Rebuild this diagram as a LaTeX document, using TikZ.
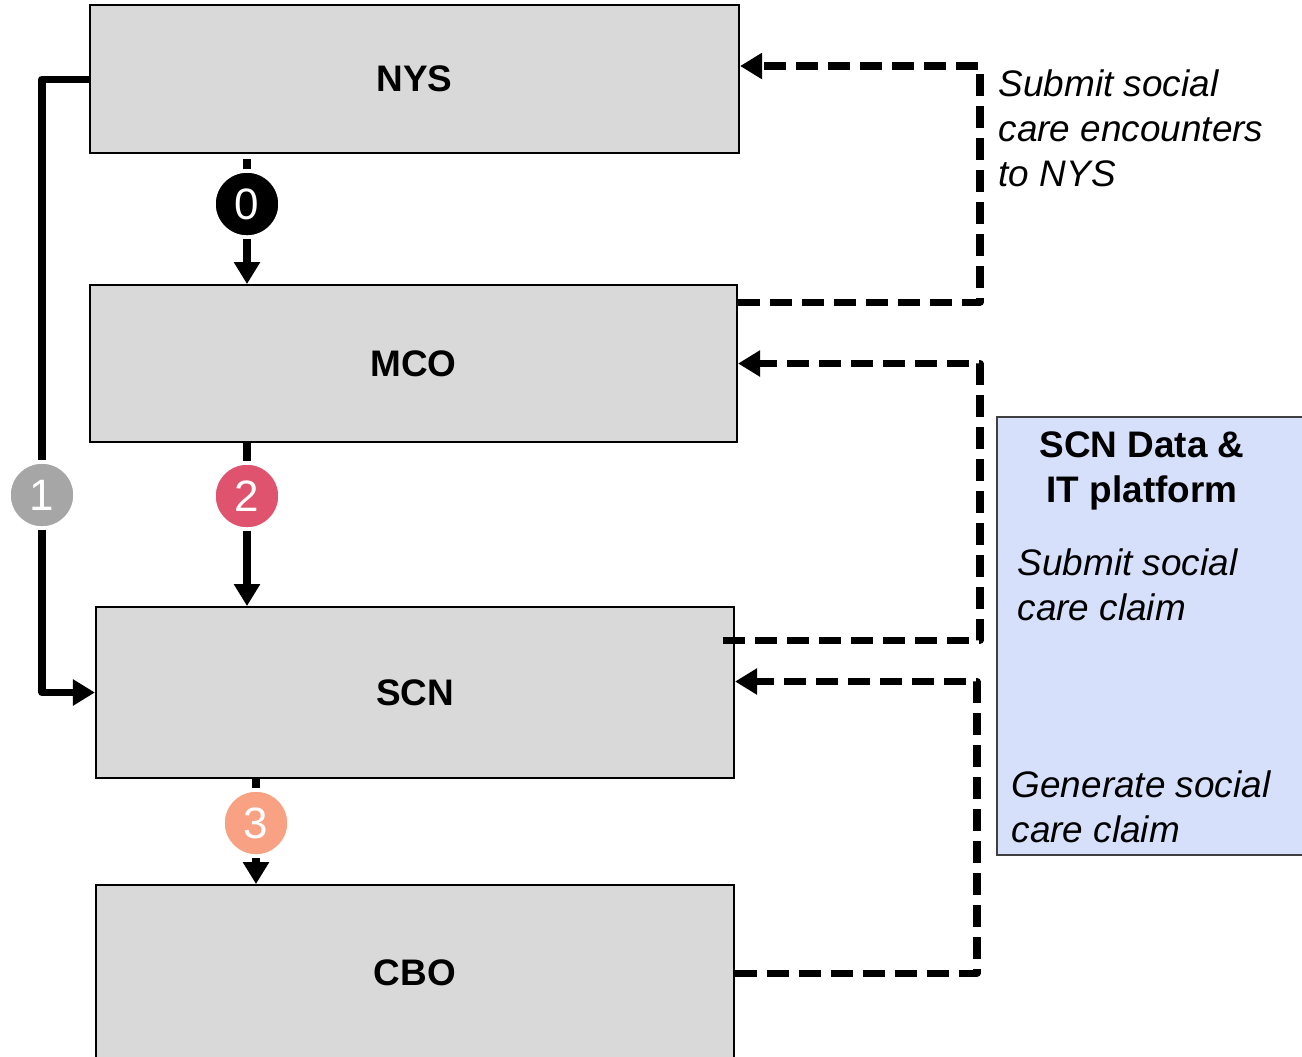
\documentclass[tikz,border=0pt]{standalone}
\usepackage{fontspec}
\setmainfont{Liberation Sans}
\usetikzlibrary{arrows.meta}
\definecolor{boxgray}{RGB}{217,217,217}
\definecolor{platblue}{RGB}{215,224,251}
\definecolor{stepgray}{RGB}{166,166,166}
\definecolor{stepred}{RGB}{224,83,110}
\definecolor{stepsalmon}{RGB}{248,161,131}
\begin{document}
\begin{tikzpicture}[x=0.01cm, y=-0.01cm,
    every node/.style={inner sep=0pt},
    party/.style={draw, fill=boxgray, line width=0.5pt,
        font=\fontsize{10.5}{12.8}\selectfont\bfseries},
    badge/.style={circle, minimum size=0.66cm, draw=white, line width=1pt,
        text=white, font=\fontsize{12.5}{14}\selectfont},
    note/.style={align=left, font=\fontsize{10.5}{12.8}\selectfont\itshape},
    line/.style={line width=2pt, line join=round},
    flow/.style={line, -{Triangle[length=0.22cm, width=0.25cm]}},
    dflow/.style={flow, dash pattern=on 0.22cm off 0.1cm}]
    \useasboundingbox (0,0) rectangle (1302,1056);

    \node[party, minimum width=6.49cm, minimum height=1.48cm] (nys) at (414.5,79) {NYS};
    \node[party, minimum width=6.47cm, minimum height=1.57cm] (mco) at (413.5,363.5) {MCO};
    \node[party, minimum width=6.38cm, minimum height=1.71cm] (scn) at (415,692.5) {SCN};
    \node[party, minimum width=6.38cm, minimum height=1.76cm] (cbo) at (415,973) {CBO};

    \node[draw=black!75, fill=platblue, line width=0.5pt, minimum width=3.1cm,
        minimum height=4.38cm] (plat) at (1152,636) {};
    \node[align=center, anchor=north, font=\fontsize{10.5}{12.8}\selectfont\bfseries]
        (platname) at (1142,431) {SCN Data \&\\IT platform};
    \node[note, anchor=north west] (submitclaim) at (1017,548) {Submit social\\care claim};
    \node[note, anchor=north west] (genclaim) at (1011,770) {Generate social\\care claim};
    \node[note, anchor=north west] (encounters) at (998,69) {Submit social\\care encounters\\to NYS};

    \node[badge, fill=black] (c0) at (247,204) {0};
    \node[badge, fill=stepgray] (c1) at (42,495) {1};
    \node[badge, fill=stepred] (c2) at (247,496) {2};
    \node[badge, fill=stepsalmon] (c3) at (256,823) {3};

    \draw[line, shorten <=0.05cm] (c0 |- nys.south) -- (c0);
    \draw[flow] (c0) -- (c0 |- mco.north);
    \draw[line] (c2 |- mco.south) -- (c2);
    \draw[flow] (c2) -- (c2 |- scn.north);
    \draw[line] (c3 |- scn.south) -- (c3);
    \draw[flow] (c3) -- (c3 |- cbo.north);
    \draw[line] (nys.west) -| (c1);
    \draw[flow] (c1) |- (scn.west);

    \coordinate (rail) at (980,0);
    \coordinate (rail2) at (977,0);
    \coordinate (nysin) at ([yshift=0.13cm]nys.east);
    \coordinate (scnin) at ([yshift=0.11cm]scn.east);
    \draw[dflow] ([yshift=-0.18cm]mco.north east) -| (rail |- nysin) -- (nysin);
    \draw[dflow] ([xshift=-0.12cm, yshift=-0.34cm]scn.north east) -| (rail |- mco.east)
        -- (mco.east);
    \draw[dflow] (cbo.east) -| (rail2 |- scnin) -- (scnin);
\end{tikzpicture}
\end{document}
